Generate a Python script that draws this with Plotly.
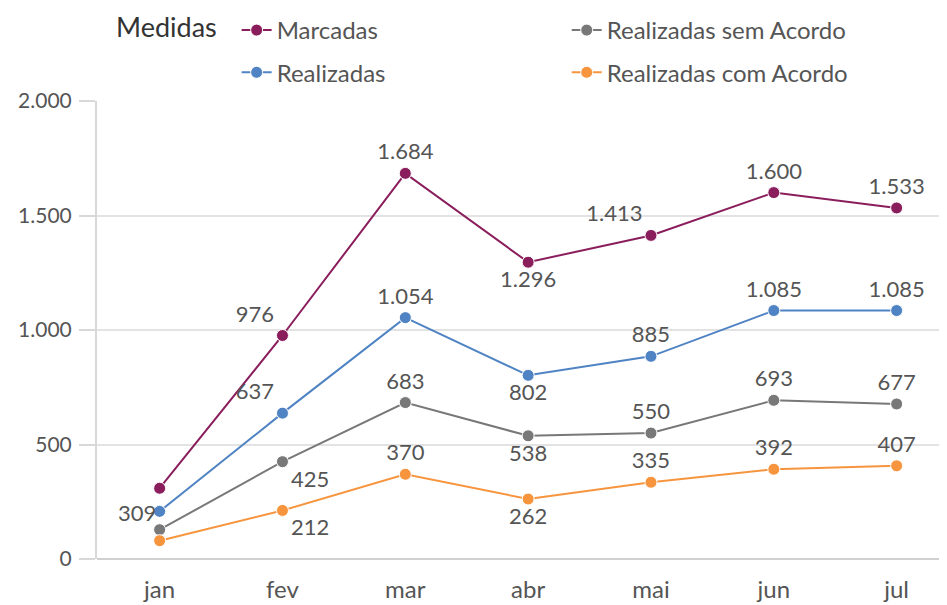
import plotly.graph_objects as go

meses = ["jan", "fev", "mar", "abr", "mai", "jun", "jul"]
marcadas = [309, 976, 1684, 1296, 1413, 1600, 1533]
realizadas = [208, 637, 1054, 802, 885, 1085, 1085]
sem_acordo = [128, 425, 683, 538, 550, 693, 677]
com_acordo = [80, 212, 370, 262, 335, 392, 407]

tick_vals = [0, 500, 1000, 1500, 2000]
tick_text = ["0", "500", "1.000", "1.500", "2.000"]

FONT = "Source Sans Pro, Lato, sans-serif"


def fmt(v):
    return f"{v:,}".replace(",", ".")


series = [
    ("Marcadas", marcadas, "#8a1d5c", "legend",
     ["bottom left", "top left", "top center", "bottom center", "top left", "top center", "top center"],
     [False] + [True] * 6),
    ("Realizadas", realizadas, "#4f83c3", "legend",
     ["top center", "top left", "top center", "bottom center", "top center", "top center", "top center"],
     [False] + [True] * 6),
    ("Realizadas sem Acordo", sem_acordo, "#787878", "legend2",
     ["top center", "bottom right", "top center", "bottom center", "top center", "top center", "top center"],
     [False] + [True] * 6),
    ("Realizadas com Acordo", com_acordo, "#f7953f", "legend2",
     ["top center", "bottom right", "top center", "bottom center", "top center", "top center", "top center"],
     [False] + [True] * 6),
]

fig = go.Figure()
for name, vals, color, leg, pos, show in series:
    fig.add_trace(go.Scatter(
        x=meses, y=vals, name=name, mode="lines+markers+text",
        line=dict(color=color, width=2),
        marker=dict(color=color, size=12, line=dict(color="white", width=1)),
        text=[fmt(v) if s else "" for v, s in zip(vals, show)],
        textposition=pos,
        textfont=dict(family=FONT, size=22, color="#555555"),
        legend=leg,
        legendgroup=name,
        cliponaxis=False,
    ))

# January label of "Marcadas" sits down-left of its point
fig.add_annotation(
    x=meses[0], y=marcadas[0], text=fmt(marcadas[0]), showarrow=False,
    xanchor="right", yanchor="middle", xshift=-2, yshift=-24,
    font=dict(family=FONT, size=22, color="#555555"),
)

# Legend title
fig.add_annotation(
    xref="paper", yref="paper", x=0.0195, y=1.163, text="Medidas",
    showarrow=False, xanchor="left", yanchor="middle",
    font=dict(family=FONT, size=27, color="#333333"),
)

leg_common = dict(
    orientation="v", yanchor="top", yref="container", xref="container",
    y=1.012, xanchor="left",
    font=dict(size=24, color="#555555"),
    tracegroupgap=8, itemwidth=30, bgcolor="rgba(0,0,0,0)",
)

fig.update_layout(
    width=939, height=597,
    margin=dict(l=89, r=0, t=93, b=46, autoexpand=False),
    paper_bgcolor="white", plot_bgcolor="white",
    font=dict(family=FONT, color="#555555", size=20),
    showlegend=True,
    legend=dict(x=0.2435, **leg_common),
    legend2=dict(x=0.595, **leg_common),
    xaxis=dict(
        range=[-0.51, 6.41], showgrid=False, zeroline=False, showline=False,
        ticks="", tickfont=dict(size=24, color="#555555"), ticklabelstandoff=14,
    ),
    yaxis=dict(
        range=[0, 2000], tickvals=tick_vals, ticktext=tick_text,
        showgrid=True, gridcolor="#e3e3e3", gridwidth=1.5,
        zeroline=True, zerolinecolor="#d0d0d0", zerolinewidth=2,
        showline=True, linecolor="#d8d8d8", linewidth=2,
        ticks="outside", ticklen=16, tickcolor="#d8d8d8", tickwidth=1.5,
        tickfont=dict(size=21, color="#555555"), ticklabelstandoff=3,
    ),
)

fig.write_html("out.html")
